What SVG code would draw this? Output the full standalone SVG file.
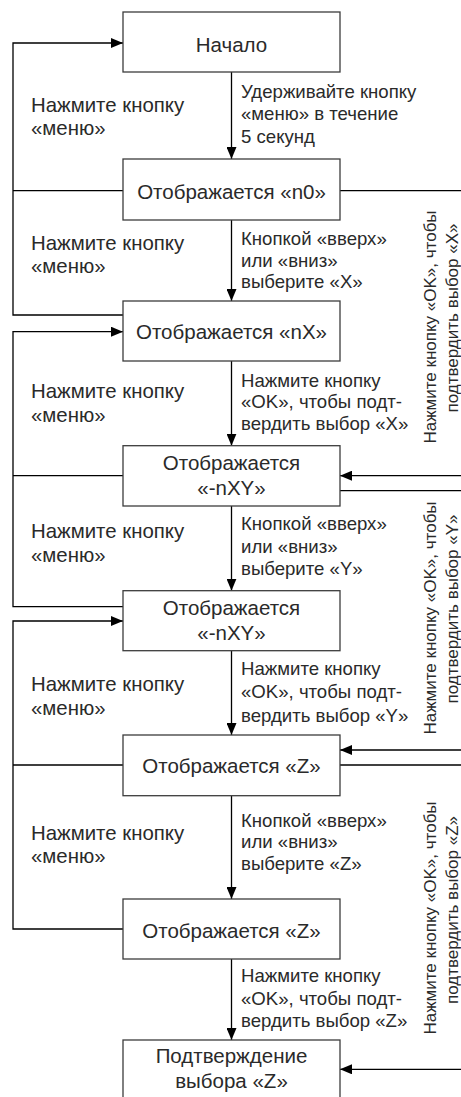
<svg xmlns="http://www.w3.org/2000/svg" width="461" height="1097" viewBox="0 0 461 1097">
<style>
.box{fill:#fff;stroke:#3c3c3c;stroke-width:1.3}
.t{font-family:"Liberation Sans",Arial,sans-serif;fill:#2a2a2a}
.b{font-size:20.5px;text-anchor:middle}
.l{font-size:20.4px}
.s{font-size:18.6px}
.r{font-family:"Liberation Sans",Arial,sans-serif;font-size:17px;fill:#2a2a2a;text-anchor:middle}
.ln{fill:none;stroke:#000;stroke-width:1.3}
</style>
<defs>
<marker id="ah" markerWidth="12" markerHeight="10" refX="12" refY="5" orient="auto" markerUnits="userSpaceOnUse">
<path d="M0,0 L12,5 L0,10 Z" fill="#000"/>
</marker>
</defs>
<rect width="461" height="1097" fill="#fff"/>
<g id="connectors">
<path class="ln" d="M231.5,72 V159" marker-end="url(#ah)"/>
<path class="ln" d="M231.5,220 V301" marker-end="url(#ah)"/>
<path class="ln" d="M231.5,361 V445.7" marker-end="url(#ah)"/>
<path class="ln" d="M231.5,506 V590.7" marker-end="url(#ah)"/>
<path class="ln" d="M231.5,650.7 V735" marker-end="url(#ah)"/>
<path class="ln" d="M231.5,795.7 V899" marker-end="url(#ah)"/>
<path class="ln" d="M231.5,959 V1040" marker-end="url(#ah)"/>
<path class="ln" d="M123,190.7 H13 M123,315 H13 V43 H123" marker-end="url(#ah)"/>
<path class="ln" d="M123,475.7 H13 M123,606.7 H13 V331.7 H123" marker-end="url(#ah)"/>
<path class="ln" d="M123,765 H13 M123,929 H13 V621 H123" marker-end="url(#ah)"/>
<path class="ln" d="M340,190.7 H461"/>
<path class="ln" d="M461,475.7 H340" marker-end="url(#ah)"/>
<path class="ln" d="M340,490.7 H461"/>
<path class="ln" d="M461,750 H340" marker-end="url(#ah)"/>
<path class="ln" d="M340,765 H461"/>
<path class="ln" d="M461,1069.3 H340" marker-end="url(#ah)"/>
</g>
<g id="n1"><rect class="box" x="123" y="12" width="217" height="60"/><text class="t b" x="231.5" y="52">Начало</text></g>
<g id="n2"><rect class="box" x="123" y="159" width="217" height="61"/><text class="t b" x="231.5" y="199">Отображается «n0»</text></g>
<g id="n3"><rect class="box" x="123" y="301" width="217" height="60"/><text class="t b" x="231.5" y="339">Отображается «nX»</text></g>
<g id="n4"><rect class="box" x="123" y="445.7" width="217" height="60.3"/><text class="t b" x="231.5" y="470">Отображается</text><text class="t b" x="231.5" y="495">«-nXY»</text></g>
<g id="n5"><rect class="box" x="123" y="590.7" width="217" height="60"/><text class="t b" x="231.5" y="615">Отображается</text><text class="t b" x="231.5" y="640">«-nXY»</text></g>
<g id="n6"><rect class="box" x="123" y="735" width="217" height="60.7"/><text class="t b" x="231.5" y="773">Отображается «Z»</text></g>
<g id="n7"><rect class="box" x="123" y="899" width="217" height="60"/><text class="t b" x="231.5" y="938">Отображается «Z»</text></g>
<g id="n8"><rect class="box" x="123" y="1040" width="217" height="70"/><text class="t b" x="231.5" y="1063">Подтверждение</text><text class="t b" x="231.5" y="1088">выбора «Z»</text></g>
<g id="labels">
<text class="t l" x="31" y="111.7">Нажмите кнопку</text><text class="t l" x="31" y="135">«меню»</text>
<text class="t l" x="31" y="250">Нажмите кнопку</text><text class="t l" x="31" y="273">«меню»</text>
<text class="t l" x="31" y="398.3">Нажмите кнопку</text><text class="t l" x="31" y="421.7">«меню»</text>
<text class="t l" x="31" y="538.3">Нажмите кнопку</text><text class="t l" x="31" y="561.7">«меню»</text>
<text class="t l" x="31" y="691">Нажмите кнопку</text><text class="t l" x="31" y="715">«меню»</text>
<text class="t l" x="31" y="840">Нажмите кнопку</text><text class="t l" x="31" y="863.3">«меню»</text>
<text class="t s" x="241" y="98.3">Удерживайте кнопку</text><text class="t s" x="241" y="120">«меню» в течение</text><text class="t s" x="241" y="142.7">5 секунд</text>
<text class="t s" x="241" y="245">Кнопкой «вверх»</text><text class="t s" x="241" y="266.7">или «вниз»</text><text class="t s" x="241" y="288.3">выберите «X»</text>
<text class="t s" x="241" y="386.7">Нажмите кнопку</text><text class="t s" x="241" y="408.3">«OK», чтобы подт-</text><text class="t s" x="241" y="430">вердить выбор «X»</text>
<text class="t s" x="241" y="530">Кнопкой «вверх»</text><text class="t s" x="241" y="553.3">или «вниз»</text><text class="t s" x="241" y="575">выберите «Y»</text>
<text class="t s" x="241" y="675">Нажмите кнопку</text><text class="t s" x="241" y="698.3">«OK», чтобы подт-</text><text class="t s" x="241" y="721.7">вердить выбор «Y»</text>
<text class="t s" x="241" y="826.7">Кнопкой «вверх»</text><text class="t s" x="241" y="848.3">или «вниз»</text><text class="t s" x="241" y="870">выберите «Z»</text>
<text class="t s" x="241" y="981.7">Нажмите кнопку</text><text class="t s" x="241" y="1005">«OK», чтобы подт-</text><text class="t s" x="241" y="1026.7">вердить выбор «Z»</text>
<text class="r" transform="translate(436,327) rotate(-90)">Нажмите кнопку «OK», чтобы</text>
<text class="r" transform="translate(458,318) rotate(-90)">подтвердить выбор «X»</text>
<text class="r" transform="translate(436,618) rotate(-90)">Нажмите кнопку «OK», чтобы</text>
<text class="r" transform="translate(458,609) rotate(-90)">подтвердить выбор «Y»</text>
<text class="r" transform="translate(436,918) rotate(-90)">Нажмите кнопку «OK», чтобы</text>
<text class="r" transform="translate(458,910) rotate(-90)">подтвердить выбор «Z»</text>
</g>
</svg>
